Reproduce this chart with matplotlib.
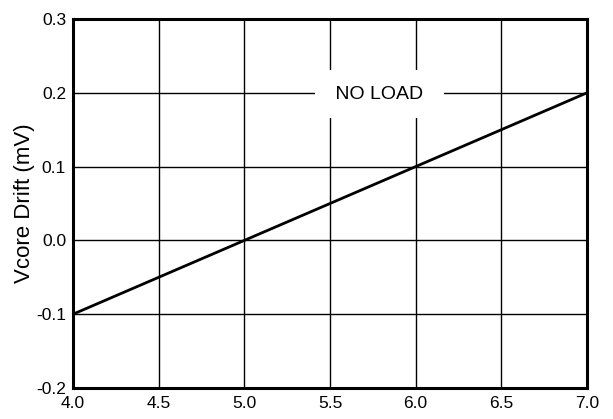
import matplotlib.pyplot as plt

plt.rcParams['font.family'] = ['Liberation Sans', 'DejaVu Sans']

# Data
supply_v = [4.0, 5.0, 6.0, 7.0]
drift_mv = [-0.1, 0.0, 0.1, 0.2]
x_ticks = [4.0, 4.5, 5.0, 5.5, 6.0, 6.5, 7.0]
y_ticks = [-0.2, -0.1, 0.0, 0.1, 0.2, 0.3]

fig = plt.figure(figsize=(6.13, 4.19), dpi=100)
ax = fig.add_axes([73 / 613, 1 - 388 / 419, 514 / 613, 369 / 419])

ax.plot(supply_v, drift_mv, color='black', linewidth=2, zorder=4)

ax.set_xlim(4.0, 7.0)
ax.set_ylim(-0.2, 0.3)
ax.set_xticks(x_ticks)
ax.set_yticks(y_ticks)
ax.set_xticklabels(['%.1f' % v for v in x_ticks])
ax.set_yticklabels(['%.1f' % v for v in y_ticks])
ax.tick_params(length=0, labelsize=12.5)
ax.tick_params(axis='x', pad=6)
ax.tick_params(axis='y', pad=5)
ax.grid(True, color='black', linewidth=1)
ax.set_axisbelow(True)
for s in ax.spines.values():
    s.set_linewidth(2.2)

ax.set_ylabel('Vcore Drift (mV)', fontsize=16, labelpad=1)

ax.text(5.79, 0.198, ' NO LOAD ', fontsize=14, ha='center', va='center', zorder=5,
        bbox=dict(boxstyle='square,pad=0.8', facecolor='white', edgecolor='none'))

fig.savefig('out.png', dpi=100)
